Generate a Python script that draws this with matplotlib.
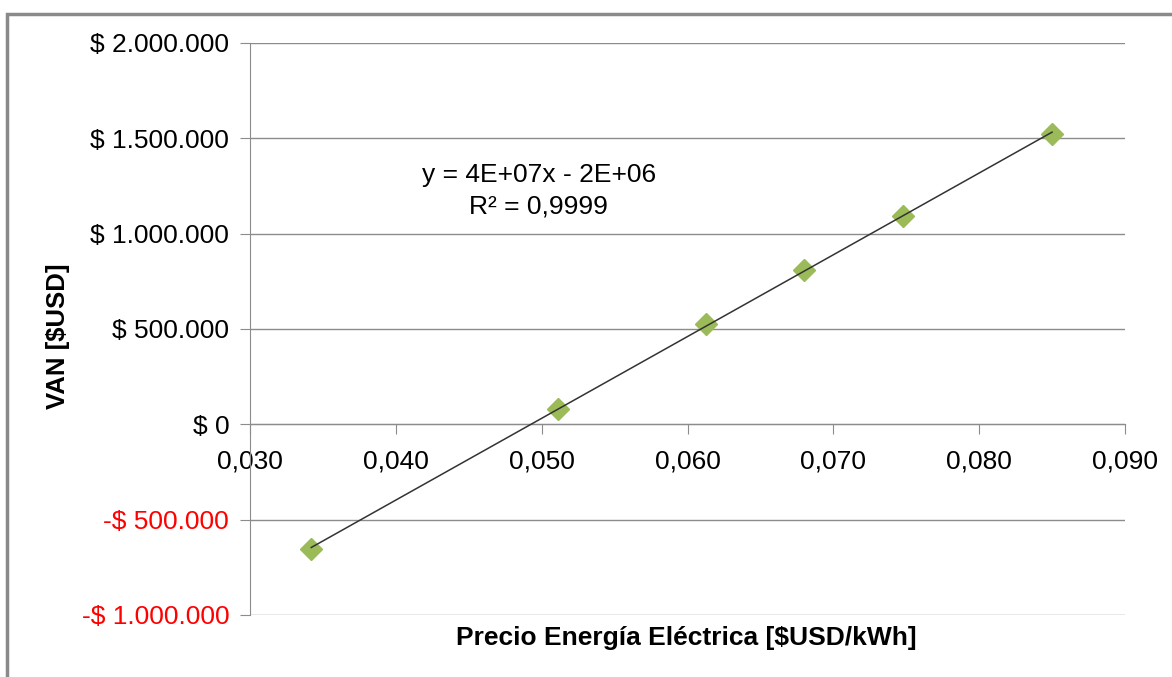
import numpy as np
import matplotlib
matplotlib.use('Agg')
import matplotlib.pyplot as plt
from matplotlib.patches import Rectangle
from matplotlib.ticker import FuncFormatter

plt.rcParams['font.family'] = ['Liberation Sans', 'DejaVu Sans']

# datos
precio = [0.0342, 0.0511, 0.0613, 0.0680, 0.0748, 0.0850]      # $USD/kWh
van = [-656000, 83000, 526000, 812000, 1094000, 1521000]         # $USD
y_ticks = [-1000000, -500000, 0, 500000, 1000000, 1500000, 2000000]
x_ticks = [0.030, 0.040, 0.050, 0.060, 0.070, 0.080, 0.090]
eq_text = "y = 4E+07x - 2E+06\nR² = 0,9999"

GRID = '#8c8c8c'
VERDE = '#9BBB59'

fig = plt.figure(figsize=(11.72, 6.77), dpi=100)
ax = fig.add_axes([250/1172, 1-615/677, (1125-250)/1172, (615-43)/677])

# marco exterior del gráfico (estilo Excel)
fig.add_artist(Rectangle((7/1172, -0.1), 1.2, 1-14/677+0.1, transform=fig.transFigure,
                         fill=False, ec='#8a8a8a', lw=2.5, clip_on=False))

ax.plot(precio, van, 'D', color=VERDE, ms=11.5, mec=VERDE, zorder=3)

# línea de tendencia lineal
m, b = np.polyfit(precio, van, 1)
xt = np.array([min(precio), max(precio)])
ax.plot(xt, m*xt + b, color='#333333', lw=1.1, zorder=4)

ax.text(0.0498, 1225000, eq_text, ha='center', va='center', fontsize=19, linespacing=1.35)

ax.set_xlim(0.030, 0.090); ax.set_ylim(-1000000, 2000000)
ax.set_xticks(x_ticks); ax.set_yticks(y_ticks)

def fmt_y(v, pos):
    s = f"{abs(int(v)):,}".replace(',', '.')
    return f"-$ {s}" if v < 0 else f"$ {s}"
ax.yaxis.set_major_formatter(FuncFormatter(fmt_y))
ax.xaxis.set_major_formatter(FuncFormatter(lambda v, p: f"{v:.3f}".replace('.', ',')))

for lbl, v in zip(ax.get_yticklabels(), y_ticks):
    lbl.set_color('red' if v < 0 else 'black')

ax.grid(axis='y', color=GRID, lw=1)
ax.set_axisbelow(True)
for s in ['top', 'right']:
    ax.spines[s].set_visible(False)
ax.spines['bottom'].set_position(('data', 0))
ax.spines['bottom'].set_color(GRID); ax.spines['left'].set_color(GRID)
ax.tick_params(axis='y', length=7, color=GRID, labelsize=19, pad=8)
ax.tick_params(axis='x', length=7, color=GRID, labelsize=19, pad=11)

fig.text(58/1172, 1-336/677, "VAN [$USD]", rotation=90, ha='center', va='center',
         fontsize=18.5, fontweight='bold')
fig.text(686/1172, 1-638/677, "Precio Energía Eléctrica [$USD/kWh]", ha='center', va='center',
         fontsize=19, fontweight='bold')

plt.savefig("out.png", dpi=100)
